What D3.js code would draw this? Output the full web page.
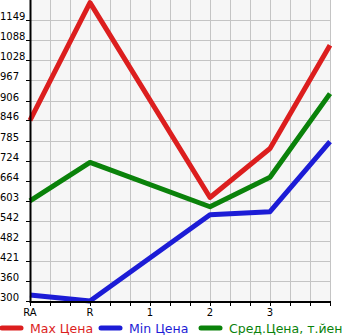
<!DOCTYPE html>
<html>
<head>
<meta charset="utf-8">
<script src="https://cdn.jsdelivr.net/npm/d3@7"></script>
<style>
body{margin:0;background:#fff;}
svg{display:block;font-family:"DejaVu Sans",sans-serif;}
</style>
</head>
<body>
<div id="chart"></div>
<script>
var categories=["RA","R","1","2","3",""];
var maxPrice=[846,1202,null,613,761,1073];
var minPrice=[318,300,null,561,570,782];
var avgPrice=[603,719,null,585,674,927];
var yTicks=[300,360,421,482,542,603,664,724,785,846,906,967,1028,1088,1149];
var legendNames=["Max Цена","Min Цена","Сред.Цена, т.йен"];
var colors=["#dc1e1e","#1c1cd6","#0a820a"];

var width=345,height=335;
var padding={left:30,right:15,top:0,bottom:34};

var svg=d3.select("#chart").append("svg")
	.attr("width",width).attr("height",height);

var x_scale=d3.scaleLinear().domain([0,categories.length-1]).range([padding.left,width-padding.right]);
var y_scale=d3.scaleLinear().domain([300,1210]).range([height-padding.bottom,padding.top]);

var plotBottom=y_scale(300);

// фон
svg.append("rect")
	.attr("x",padding.left).attr("y",0)
	.attr("width",width-padding.right-padding.left)
	.attr("height",plotBottom)
	.attr("fill","#f6f6f6");

// сетка
var gridX=d3.range(0,categories.length-1+0.001,1/3);
var grid=svg.append("g").attr("class","grid");
grid.selectAll("line.v").data(gridX).enter().append("line")
	.attr("class","v")
	.attr("x1",function(d){return Math.round(x_scale(d))+0.5;})
	.attr("x2",function(d){return Math.round(x_scale(d))+0.5;})
	.attr("y1",0).attr("y2",plotBottom)
	.attr("stroke","#c4c4c4").attr("stroke-width",1);
grid.selectAll("line.h").data(yTicks).enter().append("line")
	.attr("class","h")
	.attr("x1",padding.left).attr("x2",width-padding.right)
	.attr("y1",function(d){return Math.round(y_scale(d))+0.5;})
	.attr("y2",function(d){return Math.round(y_scale(d))+0.5;})
	.attr("stroke","#c4c4c4").attr("stroke-width",1);

// линии
var series=[maxPrice,minPrice,avgPrice];
var lineCurve=d3.line()
	.x(function(d){return x_scale(d.i);})
	.y(function(d){return y_scale(d.v);});
series.forEach(function(s,k){
	var pts=[];
	s.forEach(function(v,i){ if(v!==null) pts.push({i:i,v:v}); });
	svg.append("path")
		.attr("d",lineCurve(pts))
		.attr("fill","none")
		.attr("stroke",colors[k])
		.attr("stroke-width",5)
		.attr("stroke-linejoin","round");
});

// оси
svg.append("line")
	.attr("x1",padding.left+0.5).attr("x2",padding.left+0.5)
	.attr("y1",0).attr("y2",plotBottom+2)
	.attr("stroke","#000").attr("stroke-width",2);
svg.append("line")
	.attr("x1",padding.left).attr("x2",width-padding.right+1)
	.attr("y1",plotBottom+1).attr("y2",plotBottom+1)
	.attr("stroke","#000").attr("stroke-width",2);
svg.append("g").selectAll("line").data(yTicks).enter().append("line")
	.attr("x1",padding.left-4).attr("x2",padding.left)
	.attr("y1",function(d){return Math.round(y_scale(d))+0.5;})
	.attr("y2",function(d){return Math.round(y_scale(d))+0.5;})
	.attr("stroke","#000");
svg.append("g").selectAll("line").data(gridX).enter().append("line")
	.attr("x1",function(d){return Math.round(x_scale(d))+0.5;})
	.attr("x2",function(d){return Math.round(x_scale(d))+0.5;})
	.attr("y1",plotBottom+2).attr("y2",plotBottom+5)
	.attr("stroke","#000");

svg.append("g").selectAll("text").data(yTicks).enter().append("text")
	.attr("x",0)
	.attr("y",function(d){return y_scale(d);})
	.attr("font-size",10)
	.attr("fill","#000")
	.text(function(d){return d;});

svg.append("g").selectAll("text").data(categories).enter().append("text")
	.attr("x",function(d,i){return x_scale(i);})
	.attr("y",plotBottom+15)
	.attr("text-anchor","middle")
	.attr("font-size",10)
	.attr("fill","#000")
	.text(function(d){return d;});

// легенда
var legendX=[0,99,199];
var legend=svg.append("g").selectAll("g").data(legendNames).enter().append("g")
	.attr("transform",function(d,i){return "translate("+legendX[i]+","+(height-7)+")";});
legend.append("line")
	.attr("x1",2).attr("x2",21).attr("y1",0).attr("y2",0)
	.attr("stroke",function(d,i){return colors[i];})
	.attr("stroke-width",5)
	.attr("stroke-linecap","round");
legend.append("text")
	.attr("x",30).attr("y",5)
	.attr("font-size",12.5)
	.attr("fill",function(d,i){return colors[i];})
	.text(function(d){return d;});
</script>
</body>
</html>
